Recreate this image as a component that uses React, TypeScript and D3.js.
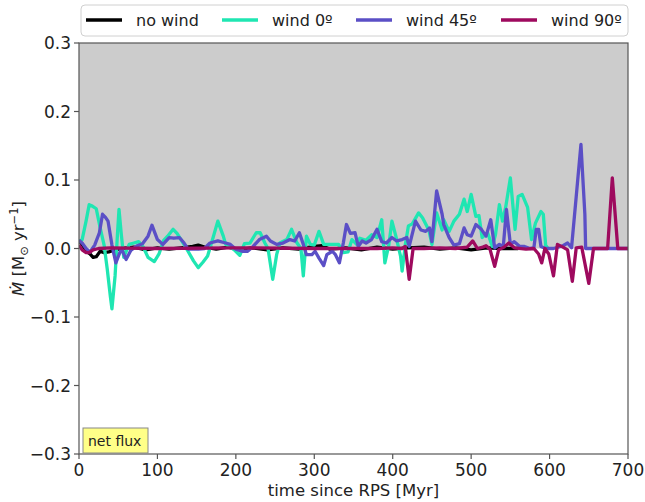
import React from 'react';
import * as d3 from 'd3';

// [time Myr, Mdot Msun/yr]
const noWind: [number, number][] = [
  [0, 0.012], [4, 0.006], [9, -0.004], [14, -0.008], [18, -0.013], [22, -0.012], [27, -0.004],
  [32, -0.006], [38, -0.005], [45, -0.002], [55, 0], [70, 0.002], [85, -0.002], [100, 0.001],
  [115, -0.001], [130, 0.001], [145, 0.003], [152, 0.005], [160, 0.002], [175, -0.001],
  [190, 0.002], [205, -0.002], [220, 0.001], [240, -0.002], [260, 0.001], [280, -0.001],
  [300, 0.003], [310, 0.004], [320, -0.001], [340, 0.001], [360, -0.002], [380, 0.002],
  [400, -0.001], [420, 0.001], [440, 0.002], [460, -0.001], [480, 0.001], [500, -0.002],
  [520, 0.001], [540, 0], [560, 0],
];

const wind0: [number, number][] = [
  [0, 0.01], [4, 0.013], [9, 0.04], [13, 0.064], [17, 0.062], [22, 0.058], [27, 0.03], [32, 0.005],
  [36, -0.03], [40, -0.07], [42, -0.088], [46, -0.04], [49, 0.02], [51, 0.057], [54, 0.02],
  [57, -0.013], [60, -0.005], [64, 0.006], [70, 0.008], [76, 0.01], [82, 0.002], [88, -0.013],
  [96, -0.019], [102, -0.008], [108, 0.012], [113, 0.018], [120, 0.028], [125, 0.022], [130, 0.013],
  [139, -0.004], [146, -0.018], [152, -0.028], [158, -0.02], [164, -0.011], [171, 0.016],
  [177, 0.04], [184, 0.018], [187, 0.006], [193, 0.002], [198, -0.002], [205, -0.01], [211, 0.007],
  [218, 0.008], [226, 0.023], [231, 0.023], [237, 0.008], [241, 0], [247, -0.045], [252, -0.009],
  [256, 0.008], [265, 0.013], [271, 0.028], [278, 0.008], [283, 0], [286, -0.04], [290, 0.018],
  [295, 0.006], [300, 0.005], [306, 0.025], [312, 0.006], [316, 0.006], [323, 0.006], [331, 0.006],
  [337, -0.006], [343, -0.005], [348, 0.013], [354, 0.006], [358, 0.015], [366, 0.012], [373, 0.02],
  [380, 0.016], [386, 0.042], [390, -0.021], [395, 0.005], [399, 0.04], [404, 0.018], [410, -0.011],
  [412, -0.033], [416, 0.005], [420, 0.033], [425, 0.036], [433, 0.052], [438, 0.045], [446, 0.027],
  [450, 0.006], [456, 0.052], [463, 0.027], [465, 0.042], [472, 0.025], [478, 0.04], [485, 0.05],
  [491, 0.072], [495, 0.054], [500, 0.079], [506, 0.047], [510, 0.048], [514, 0.016], [521, 0.023],
  [527, 0.003], [531, 0.02], [536, 0.064], [540, 0.04], [544, 0.06], [550, 0.103], [556, 0.028],
  [560, 0.076], [565, 0.079], [572, 0.06], [577, 0.013], [582, 0.037], [589, 0.054], [592, 0.05],
  [595, 0.005], [598, 0],
];

const wind45: [number, number][] = [
  [0, 0.012], [4, 0.008], [9, 0], [14, -0.005], [20, 0.005], [26, 0.023], [30, 0.05], [34, 0.045],
  [37, 0.04], [42, 0.005], [47, -0.021], [54, 0], [60, -0.016], [66, -0.003], [74, 0.004],
  [81, 0.007], [88, 0.018], [93, 0.034], [100, 0.013], [107, 0.006], [115, 0.016], [121, 0.015],
  [128, 0.016], [134, 0.008], [139, -0.001], [152, -0.001], [160, 0], [167, 0.008], [177, 0.011],
  [187, 0.008], [193, 0.006], [200, -0.001], [208, -0.004], [215, -0.004], [222, 0.003],
  [230, 0.013], [239, 0.018], [244, 0.011], [252, 0.006], [260, 0.008], [269, 0.013], [275, 0.011],
  [281, 0.023], [286, 0.006], [290, -0.009], [297, -0.009], [301, -0.004], [306, -0.014],
  [312, -0.025], [316, -0.009], [323, -0.004], [327, -0.009], [332, -0.021], [337, 0.008],
  [341, 0.035], [346, 0.022], [352, 0.023], [356, 0.003], [361, 0.011], [366, 0.008], [373, 0.013],
  [380, 0.028], [386, 0.01], [392, 0.008], [399, 0.016], [405, 0.011], [412, 0.013], [418, 0.016],
  [421, 0.003], [429, 0.04], [436, 0.027], [442, 0.025], [447, 0.03], [450, 0.01], [456, 0.084],
  [463, 0.05], [465, 0.035], [472, 0.016], [478, 0.005], [485, 0.007], [491, 0.03], [495, 0.02],
  [500, 0.018], [506, 0.035], [513, 0.028], [519, 0.018], [525, 0.042], [530, 0.001], [536, 0.006],
  [541, 0.003], [545, 0.057], [550, 0.006], [555, 0.01], [562, 0.003], [568, 0.003], [575, 0],
  [580, 0.001], [583, 0.028], [586, 0.028], [589, 0.003], [595, 0], [605, 0], [617, 0.004],
  [623, 0.008], [628, 0.001], [634, 0.076], [640, 0.152], [645, 0.05], [646, 0], [660, 0], [700, 0],
];

const wind90: [number, number][] = [
  [0, 0.005], [4, -0.002], [9, -0.006], [13, -0.006], [18, -0.002], [25, 0], [40, 0.001], [100, 0],
  [200, 0.001], [300, 0], [380, 0], [400, 0.001], [412, 0], [416, 0.003], [421, -0.045], [426, 0],
  [440, 0], [460, 0.001], [480, 0], [495, 0.002], [502, 0.011], [508, 0], [515, 0.002], [519, 0.004],
  [524, -0.001], [530, -0.026], [535, -0.002], [542, 0.002], [548, 0.008], [555, 0.001],
  [570, -0.001], [580, 0], [586, -0.008], [590, -0.021], [594, 0], [599, -0.008], [605, -0.04],
  [610, 0.006], [617, 0.002], [623, -0.002], [629, -0.048], [634, 0.001], [641, 0.002],
  [650, -0.051], [656, 0], [674, 0], [680, 0.103], [687, 0], [700, 0],
];

const seriesNames = ['no wind', 'wind 0º', 'wind 45º', 'wind 90º'];
const seriesColors = ['#000000', '#1fe6b2', '#5b4fc6', '#9e0a5e'];
const seriesData = [noWind, wind0, wind45, wind90];

const xTicks = [0, 100, 200, 300, 400, 500, 600, 700];
const yTicks = [-0.3, -0.2, -0.1, 0.0, 0.1, 0.2, 0.3];

const W = 645;
const H = 502;
const m = { top: 43, right: 17, bottom: 48, left: 79 };
const font = '"DejaVu Sans", sans-serif';

export default function App() {
  const x = d3.scaleLinear().domain([0, 700]).range([m.left, W - m.right]);
  const y = d3.scaleLinear().domain([-0.3, 0.3]).range([H - m.bottom, m.top]);
  const line = d3.line<[number, number]>()
    .x(d => x(d[0]))
    .y(d => y(d[1]));

  const legendX = [86, 222, 356, 501];

  return (
    <svg width={W} height={H} style={{ position: 'absolute', left: 0, top: 0, fontFamily: font }}>
      <defs>
        <clipPath id="plot">
          <rect x={m.left} y={m.top} width={x(700) - x(0)} height={y(-0.3) - y(0.3)} />
        </clipPath>
      </defs>
      <rect width={W} height={H} fill="#fff" />
      {/* shaded inflow region */}
      <rect x={x(0)} y={y(0.3)} width={x(700) - x(0)} height={y(0) - y(0.3)} fill="#cccccc" />

      <g clipPath="url(#plot)">
        {seriesData.map((d, i) => (
          <path key={i} d={line(d) || ''} fill="none" stroke={seriesColors[i]}
            strokeWidth={3.3} strokeLinejoin="round" />
        ))}
      </g>

      {/* frame */}
      <rect x={x(0)} y={y(0.3)} width={x(700) - x(0)} height={y(-0.3) - y(0.3)}
        fill="none" stroke="#555" strokeWidth={1.2} />

      {xTicks.map(t => (
        <g key={t}>
          <line x1={x(t)} x2={x(t)} y1={y(-0.3)} y2={y(-0.3) + 5} stroke="#555" strokeWidth={1.2} />
          <text x={x(t)} y={y(-0.3) + 22} textAnchor="middle" fontSize={17} fill="#222">{t}</text>
        </g>
      ))}
      {yTicks.map(t => (
        <g key={t}>
          <line x1={x(0) - 5} x2={x(0)} y1={y(t)} y2={y(t)} stroke="#555" strokeWidth={1.2} />
          <text x={x(0) - 8} y={y(t) + 6} textAnchor="end" fontSize={17} fill="#222">
            {t < 0 ? '\u2212' + Math.abs(t).toFixed(1) : t.toFixed(1)}
          </text>
        </g>
      ))}

      <text x={(x(0) + x(700)) / 2} y={H - 6} textAnchor="middle" fontSize={16.5} fill="#222">
        time since RPS [Myr]
      </text>
      <text transform={`translate(24, ${y(0)}) rotate(-90)`} textAnchor="middle" fontSize={16.5} fill="#222">
        <tspan fontStyle="italic">Ṁ</tspan>
        <tspan> [M</tspan>
        <tspan fontSize={11.5} dy={4}>⊙</tspan>
        <tspan dy={-4}> yr</tspan>
        <tspan fontSize={11.5} dy={-6}>−1</tspan>
        <tspan dy={6}>]</tspan>
      </text>

      {/* legend */}
      <rect x={81} y={5} width={547} height={31} rx={4} fill="#fff" stroke="#d0d0d0" />
      {seriesNames.map((n, i) => (
        <g key={n}>
          <line x1={legendX[i]} x2={legendX[i] + 36} y1={20} y2={20} stroke={seriesColors[i]} strokeWidth={3.3} />
          <text x={legendX[i] + 50} y={26} fontSize={16} fill="#222">{n}</text>
        </g>
      ))}

      {/* panel tag */}
      <rect x={83} y={428} width={65} height={25} fill="#ffff88" stroke="#888" />
      <text x={88} y={446} fontSize={14} fill="#222">net flux</text>
    </svg>
  );
}
